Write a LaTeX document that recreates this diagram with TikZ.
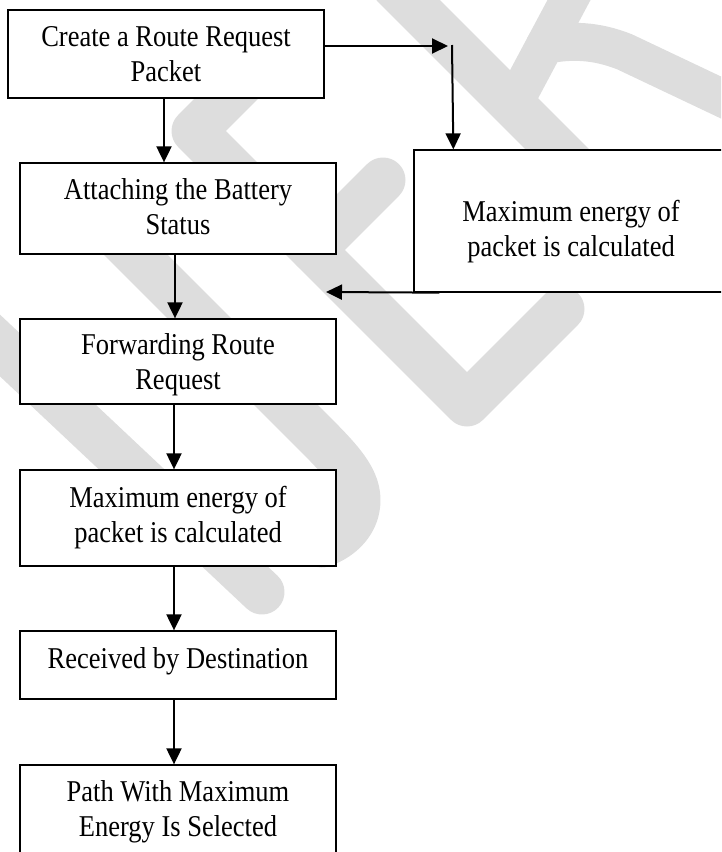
\documentclass[tikz,border=0pt]{standalone}
\usepackage{fontspec}
\setmainfont{Liberation Serif}
\usetikzlibrary{arrows.meta,calc}
\definecolor{wm}{RGB}{221,221,221}
\newcommand{\boxtext}[1]{\scalebox{1}[1.14]{\begin{tabular}{@{}c@{}}#1\end{tabular}}}
\begin{document}
\begin{tikzpicture}[x=1pt,y=-1pt,
  box/.style={draw=black,line width=1.3pt,fill=white,inner sep=0pt,minimum width=316pt},
  txt/.style={inner sep=0pt,font=\fontsize{26.5}{30.7}\selectfont},
  arr/.style={line width=2pt,-{Triangle[length=16pt,width=15pt]}},
  wmline/.style={draw=wm,line width=45pt,line cap=round,line join=round},
  wmthin/.style={draw=wm,line width=38pt,line cap=round,line join=round}]
\useasboundingbox (0,0) rectangle (721,852);
\clip (0,0) rectangle (721,852);
% watermark
\draw[wmline] (290,35) -- (194,131) -- (467,404) -- (562,309);
\draw[wmline] (383,180) -- (313,250);
\draw[wmline] (393,-15) -- (600,192);
\draw[wmthin] (577,-15) -- (513,105);
\draw[wmthin] (545,45) .. controls (570,40) and (595,40) .. (625,52) -- (760,116);
\draw[wmline] (70,189) -- (300,419) .. controls (335,454) and (358,475) .. (358,500) .. controls (358,522) and (342,538) .. (322,545);
\draw[wmline] (-25,322) -- (262,592);
% boxes
\node[box,minimum height=88pt] (b1) at (166,54) {};
\node[box,minimum height=91pt] (b2) at (178,208.5) {};
\node[box,minimum height=85pt] (b3) at (178,361.5) {};
\node[box,minimum height=96pt] (b4) at (178,518) {};
\node[box,minimum height=68pt] (b5) at (178,665) {};
\node[box,minimum height=115pt] (b6) at (178,822.5) {};
\node[box,minimum width=315pt,minimum height=142pt] (rb) at (571.5,221) {};
% texts
\node[txt] (t1) at (166,57) {\boxtext{Create a Route Request\\Packet}};
\node[txt] (t2) at (178,210) {\boxtext{Attaching the Battery\\Status}};
\node[txt] (t3) at (178,365) {\boxtext{Forwarding Route\\Request}};
\node[txt] (t4) at (178,517.5) {\boxtext{Maximum energy of\\packet is calculated}};
\node[txt] (t5) at (178,661) {\boxtext{Received by Destination}};
\node[txt] (t6) at (178,811.5) {\boxtext{Path With Maximum\\Energy Is Selected}};
\node[txt] (tr) at (571,232) {\boxtext{Maximum energy of\\packet is calculated}};
% connectors
\coordinate (hj) at (448,46);
\coordinate (vj) at (452,45);
\coordinate (bl) at (326,292);
\draw[arr] ([xshift=-2pt]b1.south) -- ([xshift=-2pt]b1.south |- b2.north);
\draw[arr] ([xshift=-3pt]b2.south) -- ([xshift=-3pt]b3.north);
\draw[arr] ([xshift=-4pt]b3.south) -- ([xshift=-4pt]b4.north);
\draw[arr] ([xshift=-4pt]b4.south) -- ([xshift=-4pt]b5.north);
\draw[arr] ([xshift=-4pt]b5.south) -- ([xshift=-4pt]b6.north);
\draw[arr] (b1.east |- hj) -- (hj);
\draw[arr] (vj) -- ([xshift=40pt]rb.north west);
\draw[arr] ([xshift=26pt]rb.south west) -- (bl);
\end{tikzpicture}
\end{document}
